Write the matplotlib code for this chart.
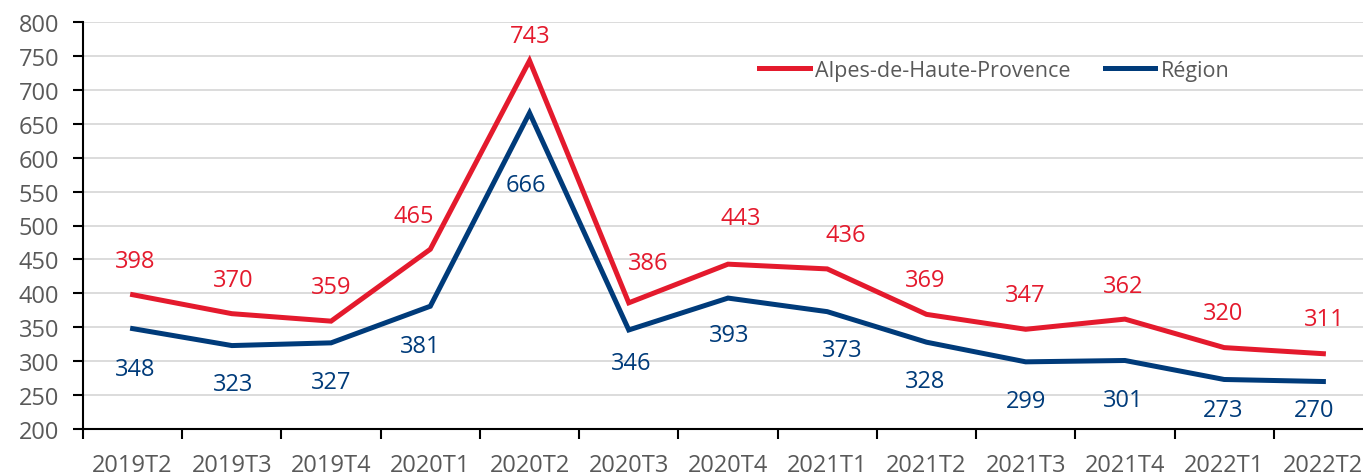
import numpy as np
import matplotlib.pyplot as plt
from matplotlib.ticker import MultipleLocator, FixedLocator

trimestres = ["2019T2", "2019T3", "2019T4", "2020T1", "2020T2", "2020T3", "2020T4",
              "2021T1", "2021T2", "2021T3", "2021T4", "2022T1", "2022T2"]
alpes = [398, 370, 359, 465, 743, 386, 443, 436, 369, 347, 362, 320, 311]
region = [348, 323, 327, 381, 666, 346, 393, 373, 328, 299, 301, 273, 270]

# décalage des étiquettes (en pixels : dx, dy vers le bas)
decal_alpes = [(3, -34), (1, -34), (0, -34), (-17, -33), (1, -25), (19, -40), (13, -46),
               (19, -34), (-1, -34), (0, -34), (-2, -33), (-1, -35), (1, -35)]
decal_region = [(3, 40), (1, 38), (0, 39), (-10, 40), (-4, 72), (2, 33), (1, 37),
                (15, 38), (-1, 39), (0, 39), (-2, 40), (-1, 31), (-9, 28)]

rouge = "#e41a2d"
bleu = "#003b7a"
gris = "#595959"

plt.rcParams['font.family'] = ['Open Sans', 'DejaVu Sans']

fig = plt.figure(figsize=(13.63, 4.77), dpi=100)
ax = fig.add_axes([83 / 1363, 1 - 430 / 477, 1290 / 1363, 407 / 477])

x = np.arange(len(trimestres))
ax.plot(x, alpes, color=rouge, lw=3.6, solid_joinstyle='miter', label="Alpes-de-Haute-Provence", zorder=3)
ax.plot(x, region, color=bleu, lw=3.6, solid_joinstyle='miter', label="Région", zorder=3)

taille = 17
px = 0.72  # points par pixel
for xi, v, (dx, dy) in zip(x, alpes, decal_alpes):
    ax.annotate(str(v), (xi, v), xytext=(dx * px, -dy * px), textcoords='offset points',
                ha='center', va='center', color=rouge, fontsize=taille)
for xi, v, (dx, dy) in zip(x, region, decal_region):
    ax.annotate(str(v), (xi, v), xytext=(dx * px, -dy * px), textcoords='offset points',
                ha='center', va='center', color=bleu, fontsize=taille)

ax.set_xlim(-0.5, len(trimestres) - 0.5)
ax.set_ylim(200, 800)
ax.yaxis.set_major_locator(MultipleLocator(50))
ax.grid(axis='y', color='#d9d9d9', lw=1.3)
ax.set_axisbelow(True)

ax.set_xticks(x)
ax.set_xticklabels(trimestres)
ax.xaxis.set_minor_locator(FixedLocator(np.arange(-0.5, len(trimestres), 1)))
ax.tick_params(axis='x', which='major', length=0, pad=17, labelsize=taille, labelcolor=gris)
ax.tick_params(axis='x', which='minor', length=7, width=1.5, direction='out')
ax.tick_params(axis='y', length=7, width=1.5, direction='out', pad=10, labelsize=taille, labelcolor=gris)

for s in ['top', 'right']:
    ax.spines[s].set_visible(False)
for s in ['left', 'bottom']:
    ax.spines[s].set_linewidth(1.5)

leg = ax.legend(loc='upper left', bbox_to_anchor=(0.509, 0.955), ncol=2, frameon=False,
                fontsize=15.5, handlelength=2.35, handletextpad=0.25, columnspacing=1.6,
                labelcolor=gris)

fig.savefig("out.png", dpi=100)
